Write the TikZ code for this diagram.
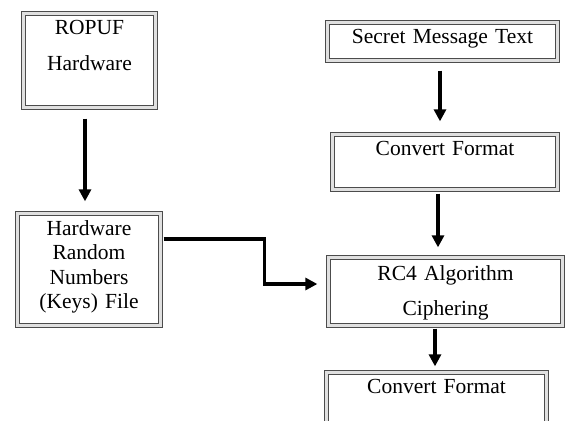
\documentclass[tikz,border=0pt]{standalone}
\usepackage{fontspec}
\setmainfont{Liberation Serif}
\usetikzlibrary{arrows.meta}

\begin{document}
\begin{tikzpicture}[x=1pt,y=-1pt,>={Triangle[width=12pt,length=12pt]},
    box/.style={draw=black!70,double=black!12,double distance=2.6pt,line width=1.3pt,fill=white,align=center,inner sep=0pt,text height=15pt,font=\fontsize{21.5}{24.5}\selectfont},
    conn/.style={->,line width=3.2pt}]

    \useasboundingbox (0,0) rectangle (566,421);
    \clip (0,0) rectangle (566,421);

    % left column
    \node[box,minimum width=132pt,minimum height=94pt,text width=126pt,text depth=68pt] (ropuf) at (89.5,60.5) {ROPUF\\[11.5pt]Hardware};
    \node[box,minimum width=143pt,minimum height=112pt,text width=137pt,text depth=84pt] (keys) at (89,269.5) {Hardware\\Random\\Numbers\\(Keys) File};

    % right column
    \node[box,minimum width=230pt,minimum height=38pt,text width=224pt,text depth=12pt] (secret) at (442.5,41.5) {Secret Message Text};
    \node[box,minimum width=225pt,minimum height=55pt,text width=219pt,text depth=29pt] (conv1) at (445,162) {Convert Format};
    \node[box,minimum width=234pt,minimum height=68pt,text width=228pt,text depth=38pt] (rc4) at (445.5,291.5) {RC4 Algorithm\\[10.5pt]Ciphering};
    \node[box,minimum width=220pt,minimum height=60pt,text width=214pt,text depth=34pt] (conv2) at (436.5,402.5) {Convert Format};

    \draw[conn,shorten <=10.5pt,shorten >=11.5pt] ([xshift=-4.5pt]ropuf.south) -- ([xshift=-4pt]keys.north);
    \draw[conn,shorten <=9.5pt,shorten >=12.5pt] ([xshift=-2.5pt]secret.south) -- ([xshift=-5pt]conv1.north);
    \draw[conn,shorten <=3.5pt,shorten >=9.5pt] ([xshift=-7pt]conv1.south) -- ([xshift=-7.5pt]rc4.north);
    \draw[conn,shorten <=2.5pt,shorten >=5.5pt] ([xshift=-10.5pt]rc4.south) -- ([xshift=-1.5pt]conv2.north);
    \draw[conn,shorten <=2.5pt,shorten >=10.5pt] ([yshift=30.5pt]keys.east) -- ++(103.5,0) |- ([yshift=7.5pt]rc4.west);
\end{tikzpicture}
\end{document}
